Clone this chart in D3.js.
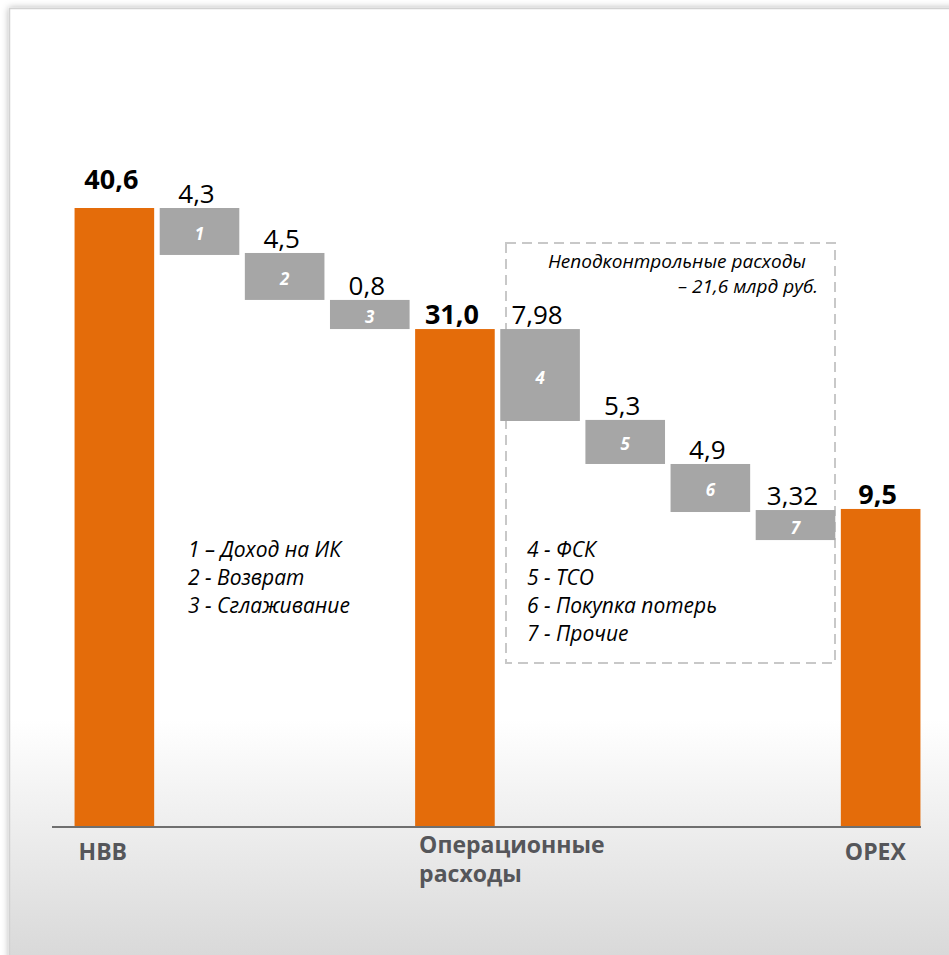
<!DOCTYPE html>
<html>
  <head>
    <meta charset="UTF-8">
    <title>Waterfall</title>
    <style>
      body {margin: 0; background: #fff; overflow: hidden;}
      svg {display: block; font-family: "Open Sans", sans-serif;}
      .value {font-size: 26px; fill: #000; text-anchor: middle}
      .value.total {font-weight: 700; font-size: 27px}
      .inner {font-size: 17px; font-weight: 700; font-style: italic; fill: #fff; text-anchor: middle}
      .note {font-size: 21px; font-style: italic; fill: #000}
      .title {font-size: 19px; font-style: italic; fill: #000; text-anchor: end}
      .cat {font-size: 23px; font-weight: 700; fill: #55565a}
    </style>
  </head>
  <body>
    <div id="chart"></div>
    <script src="https://cdn.jsdelivr.net/npm/d3@7"></script>
    <script>

const categories = ["НВВ", "Доход на ИК", "Возврат", "Сглаживание", "Операционные расходы",
  "ФСК", "ТСО", "Покупка потерь", "Прочие", "OPEX"];
const kinds = ["total", "step", "step", "step", "total", "step", "step", "step", "step", "total"];
const valueLabels = ["40,6", "4,3", "4,5", "0,8", "31,0", "7,98", "5,3", "4,9", "3,32", "9,5"];
const stepNumbers = ["", "1", "2", "3", "", "4", "5", "6", "7", ""];
// bar extents as drawn in the original slide (it is not drawn to scale)
const barTop = [40.6, 40.6, 37.65, 34.57, 32.66, 32.66, 26.70, 23.81, 20.79, 20.86];
const barBottom = [0, 37.52, 34.57, 32.66, 0, 26.63, 23.81, 20.66, 18.82, 0];
const axisLabels = [["НВВ"], ["Операционные", "расходы"], ["OPEX"]];
const notesLeft = ["1 – Доход на ИК", "2 - Возврат", "3 - Сглаживание"];
const notesRight = ["4 - ФСК", "5 - ТСО", "6 - Покупка потерь", "7 - Прочие"];
const boxTitle = ["Неподконтрольные расходы", "– 21,6 млрд руб."];

const width = 949, height = 955;
const orange = "#e46c0a", grey = "#a6a6a6";

const svg = d3.select("#chart").append("svg")
  .attr("width", width).attr("height", height);

const defs = svg.append("defs");
const grad = defs.append("linearGradient").attr("id", "bg")
  .attr("gradientUnits", "userSpaceOnUse")
  .attr("x1", 0).attr("x2", 0).attr("y1", 720).attr("y2", 955);
grad.append("stop").attr("offset", 0).attr("stop-color", "#ffffff");
grad.append("stop").attr("offset", 1).attr("stop-color", "#d9d9d9");

const shadow = defs.append("filter").attr("id", "shadow")
  .attr("x", "-5%").attr("y", "-5%").attr("width", "110%").attr("height", "110%");
shadow.append("feDropShadow").attr("dx", 0).attr("dy", 0)
  .attr("stdDeviation", 3.5).attr("flood-color", "#000").attr("flood-opacity", 0.3);

// card
svg.append("rect")
  .attr("x", 9.5).attr("y", 8.5)
  .attr("width", width + 20).attr("height", height + 20)
  .attr("fill", "url(#bg)")
  .attr("stroke", "#d2d2d2").attr("stroke-width", 1.5)
  .attr("filter", "url(#shadow)");

const data = categories.map((c, i) => ({
  name: c, kind: kinds[i], label: valueLabels[i], num: stepNumbers[i],
  top: barTop[i], bottom: barBottom[i]
}));

const x = d3.scaleBand().domain(categories).range([72, 923])
  .paddingInner(0.065).paddingOuter(0.03);
const y = d3.scaleLinear().domain([0, 40.6]).range([827, 208]);

// dashed box around uncontrolled costs
svg.append("rect")
  .attr("x", 506).attr("y", 243).attr("width", 329).attr("height", 420)
  .attr("fill", "none").attr("stroke", "#c8c8c8")
  .attr("stroke-width", 2).attr("stroke-dasharray", "10,6");

svg.selectAll("text.title").data(boxTitle).join("text")
  .attr("class", "title")
  .attr("x", (d, i) => i === 0 ? 806 : 818)
  .attr("y", (d, i) => 268 + i * 25)
  .text(d => d);

// bars
svg.selectAll("rect.bar").data(data).join("rect")
  .attr("class", "bar")
  .attr("x", d => x(d.name))
  .attr("y", d => y(d.top))
  .attr("width", x.bandwidth())
  .attr("height", d => y(d.bottom) - y(d.top))
  .attr("fill", d => d.kind === "total" ? orange : grey);

// numbers inside the step bars
svg.selectAll("text.inner").data(data.filter(d => d.num)).join("text")
  .attr("class", "inner")
  .attr("x", d => x(d.name) + x.bandwidth() / 2)
  .attr("y", d => (y(d.top) + y(d.bottom)) / 2 + 2)
  .attr("dominant-baseline", "central")
  .text(d => d.num);

// value labels
svg.selectAll("text.value").data(data).join("text")
  .attr("class", d => "value" + (d.kind === "total" ? " total" : ""))
  .attr("x", d => x(d.name) + x.bandwidth() / 2 - 3)
  .attr("y", (d, i) => y(d.top) - (i === 0 ? 19 : 5))
  .text(d => d.label);

// baseline axis
const axis = svg.append("g").attr("transform", `translate(0,${y(0)})`);
axis.append("line")
  .attr("x1", 52).attr("x2", x.range()[1] - 2)
  .attr("stroke", "#6f6f6f").attr("stroke-width", 2);

const totals = data.filter(d => d.kind === "total");
axis.selectAll("text.cat").data(totals).join("text")
  .attr("class", "cat")
  .attr("x", d => x(d.name) + 4)
  .attr("y", (d, i) => axisLabels[i].length > 1 ? 26 : 33)
  .each(function (d, i) {
    d3.select(this).selectAll("tspan").data(axisLabels[i]).join("tspan")
      .attr("x", x(d.name) + 4)
      .attr("dy", (t, j) => j === 0 ? 0 : 29)
      .text(t => t);
  });

// legends
svg.selectAll("text.noteL").data(notesLeft).join("text")
  .attr("class", "note noteL")
  .attr("x", 188)
  .attr("y", (d, i) => 557 + i * 28)
  .text(d => d);

svg.selectAll("text.noteR").data(notesRight).join("text")
  .attr("class", "note noteR")
  .attr("x", 527)
  .attr("y", (d, i) => 557 + i * 28)
  .text(d => d);

    </script>
  </body>
</html>
